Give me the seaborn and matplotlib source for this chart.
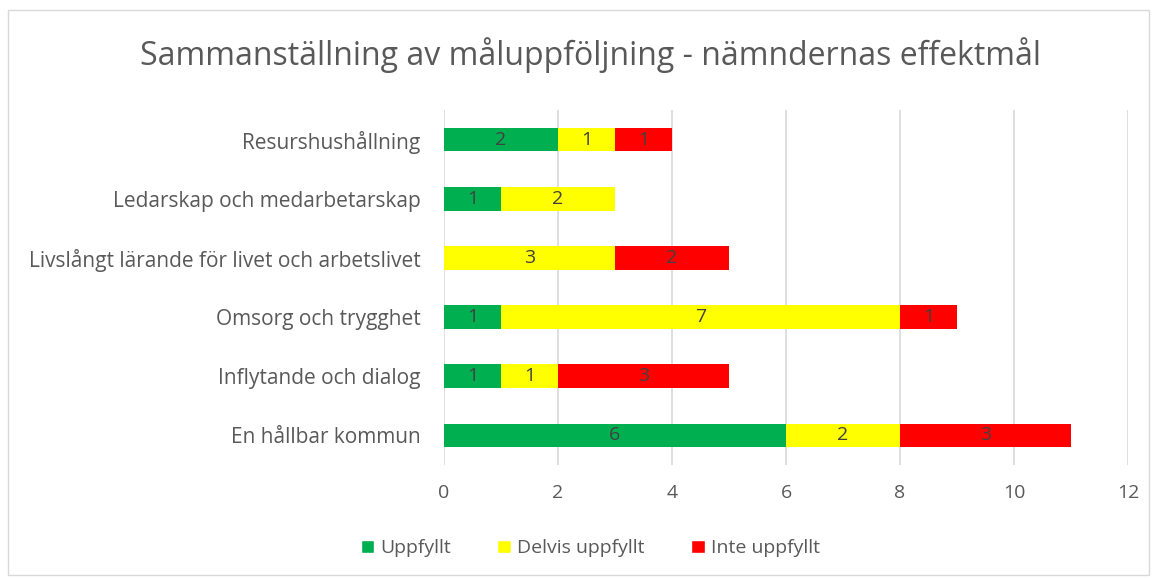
import numpy as np
import pandas as pd
import matplotlib.pyplot as plt
import seaborn as sns
from matplotlib.patches import Rectangle, Patch

categories = [
    "Resurshushållning",
    "Ledarskap och medarbetarskap",
    "Livslångt lärande för livet och arbetslivet",
    "Omsorg och trygghet",
    "Inflytande och dialog",
    "En hållbar kommun",
]
uppfyllt = [2, 1, 0, 1, 1, 6]
delvis = [1, 2, 3, 7, 1, 2]
inte = [1, 0, 2, 1, 3, 3]

series = ["Uppfyllt", "Delvis uppfyllt", "Inte uppfyllt"]
colors = ["#00B050", "#FFFF00", "#FF0000"]

df = pd.DataFrame({"kategori": categories, "Uppfyllt": uppfyllt,
                   "Delvis uppfyllt": delvis, "Inte uppfyllt": inte})
cum = df[series].cumsum(axis=1)

sns.set_theme(style="white")
plt.rcParams["font.family"] = ["Open Sans", "DejaVu Sans"]
text_col = "#595959"

fig = plt.figure(figsize=(11.57, 5.79), dpi=100)
ax = fig.add_axes([0.3837, 0.197, 0.975 - 0.3837, 0.810 - 0.197])

# stacked bars: draw cumulative totals from the back
for s, c in reversed(list(zip(series, colors))):
    sns.barplot(x=cum[s], y=df["kategori"], order=categories, orient="h",
                color=c, width=0.4, saturation=1, linewidth=0, ax=ax, zorder=3)

# segment labels
for i in range(len(categories)):
    left = 0
    for s in series:
        v = df[s].iloc[i]
        if v > 0:
            ax.text(left + v / 2, i, str(v), ha="center", va="center",
                    fontsize=14, color="#404040", zorder=4)
        left += v

ax.set_xlim(0, 12)
ax.set_ylim(5.5, -0.5)
ax.set_xticks(range(0, 13, 2))
ax.xaxis.grid(True, color="#d9d9d9", linewidth=1.2, zorder=0)
ax.yaxis.grid(False)
for sp in ax.spines.values():
    sp.set_visible(False)
ax.set_xlabel("")
ax.set_ylabel("")
ax.tick_params(axis="both", length=0, labelsize=14, colors=text_col)
ax.tick_params(axis="y", labelsize=15, pad=17)
ax.tick_params(axis="x", pad=14)

fig.text(0.51, 0.905, "Sammanställning av måluppföljning - nämndernas effektmål",
         ha="center", va="center", fontsize=23, color=text_col)

handles = [Patch(facecolor=c, label=s) for s, c in zip(series, colors)]
fig.legend(handles=handles, loc="center", bbox_to_anchor=(0.51, 0.053), ncol=3,
           frameon=False, fontsize=14, labelcolor=text_col, handlelength=0.7,
           handleheight=0.7, handletextpad=0.3, columnspacing=2.4)

fig.patches.append(Rectangle((8 / 1157, 4 / 579), 1141 / 1157, 565 / 579,
                             transform=fig.transFigure, fill=False,
                             edgecolor="#d9d9d9", linewidth=1))

fig.savefig("out.png", dpi=100)
